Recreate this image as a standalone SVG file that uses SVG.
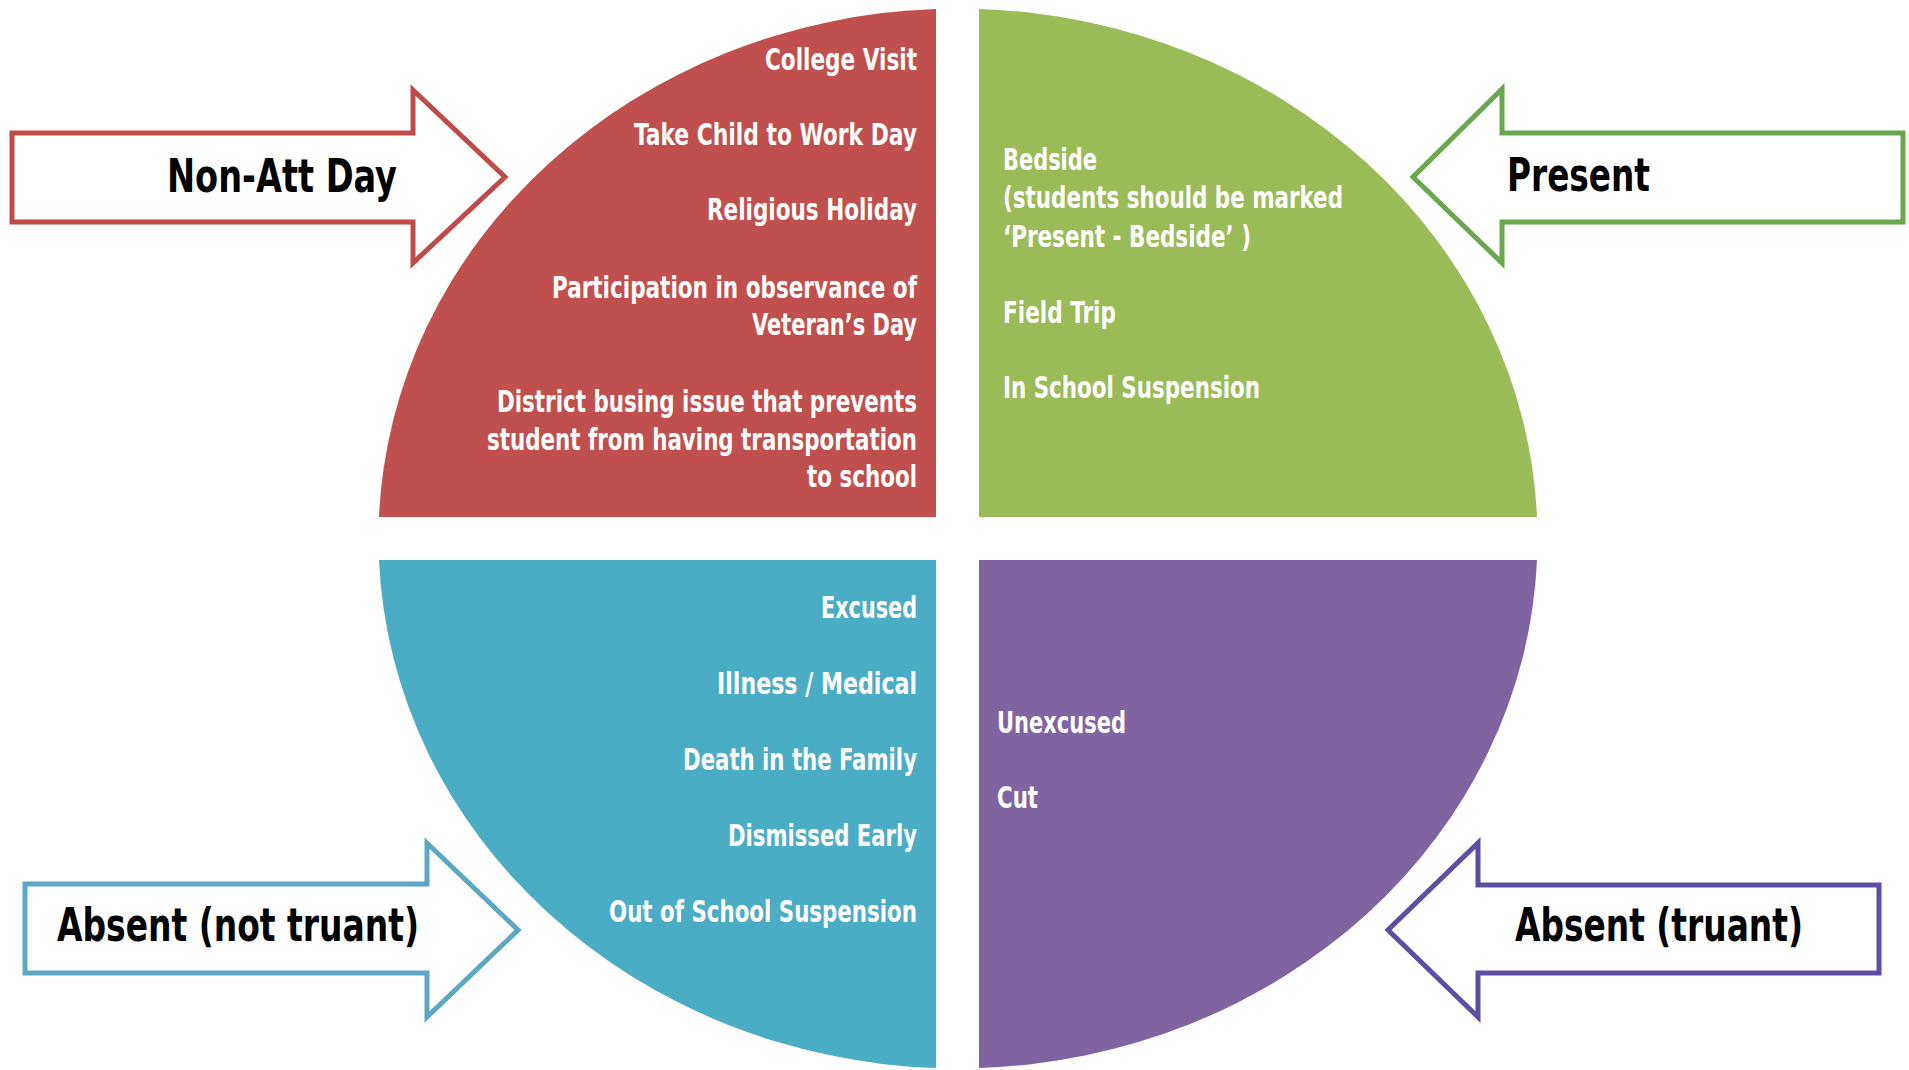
<svg xmlns="http://www.w3.org/2000/svg" width="1909" height="1070" viewBox="0 0 1909 1070">
<style>
.item{font-family:"DejaVu Sans","Liberation Sans",sans-serif;font-stretch:condensed;font-weight:bold;font-size:31px;fill:#ffffff}
.label{font-family:"DejaVu Sans","Liberation Sans",sans-serif;font-stretch:condensed;font-weight:bold;font-size:47px;fill:#000000}
.arrow{fill:#ffffff;stroke-width:5;stroke-linejoin:miter}
</style>
<rect x="0" y="0" width="1909" height="1070" fill="#ffffff"/>
<g id="non-att-day">
<path d="M936,517 L379,517 A580,530 0 0 1 936,8.9 Z" fill="#C0504D"/>
<text class="item" x="765" y="70" textLength="152" lengthAdjust="spacingAndGlyphs">College Visit</text>
<text class="item" x="634" y="145" textLength="283" lengthAdjust="spacingAndGlyphs">Take Child to Work Day</text>
<text class="item" x="707" y="220" textLength="210" lengthAdjust="spacingAndGlyphs">Religious Holiday</text>
<text class="item" x="552" y="298" textLength="365" lengthAdjust="spacingAndGlyphs">Participation in observance of</text>
<text class="item" x="752" y="335" textLength="165" lengthAdjust="spacingAndGlyphs">Veteran’s Day</text>
<text class="item" x="497" y="412" textLength="420" lengthAdjust="spacingAndGlyphs">District busing issue that prevents</text>
<text class="item" x="487" y="450" textLength="430" lengthAdjust="spacingAndGlyphs">student from having transportation</text>
<text class="item" x="807" y="487" textLength="110" lengthAdjust="spacingAndGlyphs">to school</text>
</g>
<g id="present">
<path d="M979,517 L979,8.9 A580,530 0 0 1 1537,517 Z" fill="#9BBB59"/>
<text class="item" x="1003" y="170" textLength="94" lengthAdjust="spacingAndGlyphs">Bedside</text>
<text class="item" x="1003" y="208" textLength="340" lengthAdjust="spacingAndGlyphs">(students should be marked</text>
<text class="item" x="1003" y="247" textLength="248" lengthAdjust="spacingAndGlyphs">‘Present - Bedside’ )</text>
<text class="item" x="1003" y="323" textLength="113" lengthAdjust="spacingAndGlyphs">Field Trip</text>
<text class="item" x="1003" y="398" textLength="257" lengthAdjust="spacingAndGlyphs">In School Suspension</text>
</g>
<g id="absent-not-truant">
<path d="M936,560 L936,1068.1 A580,530 0 0 1 379,560 Z" fill="#4BACC6"/>
<text class="item" x="821" y="618" textLength="96" lengthAdjust="spacingAndGlyphs">Excused</text>
<text class="item" x="717" y="694" textLength="200" lengthAdjust="spacingAndGlyphs">Illness / Medical</text>
<text class="item" x="683" y="770" textLength="234" lengthAdjust="spacingAndGlyphs">Death in the Family</text>
<text class="item" x="728" y="846" textLength="189" lengthAdjust="spacingAndGlyphs">Dismissed Early</text>
<text class="item" x="609" y="922" textLength="308" lengthAdjust="spacingAndGlyphs">Out of School Suspension</text>
</g>
<g id="absent-truant">
<path d="M979,560 L1537,560 A580,530 0 0 1 979,1068.1 Z" fill="#8064A2"/>
<text class="item" x="997" y="733" textLength="129" lengthAdjust="spacingAndGlyphs">Unexcused</text>
<text class="item" x="997" y="808" textLength="41" lengthAdjust="spacingAndGlyphs">Cut</text>
</g>
<g id="arrow-non-att-day">
<polygon class="arrow" stroke="#BE4B48" points="12,133 413,133 413,90 505,177 413,263 413,222 12,222"/>
<text class="label" x="167" y="192" textLength="230" lengthAdjust="spacingAndGlyphs">Non-Att Day</text>
</g>
<g id="arrow-present">
<polygon class="arrow" stroke="#6AA84F" points="1903,133 1502,133 1502,89 1413,177 1502,263 1502,222 1903,222"/>
<text class="label" x="1507" y="191" textLength="143" lengthAdjust="spacingAndGlyphs">Present</text>
</g>
<g id="arrow-absent-not-truant">
<polygon class="arrow" stroke="#5BA7C4" points="25,884 427,884 427,843 518,930 427,1017 427,973 25,973"/>
<text class="label" x="57" y="941" textLength="362" lengthAdjust="spacingAndGlyphs">Absent (not truant)</text>
</g>
<g id="arrow-absent-truant">
<polygon class="arrow" stroke="#5E4DA3" points="1879,885 1478,885 1478,843 1388,930 1478,1017 1478,973 1879,973"/>
<text class="label" x="1515" y="941" textLength="288" lengthAdjust="spacingAndGlyphs">Absent (truant)</text>
</g>
<g id="connectors"/>
</svg>
